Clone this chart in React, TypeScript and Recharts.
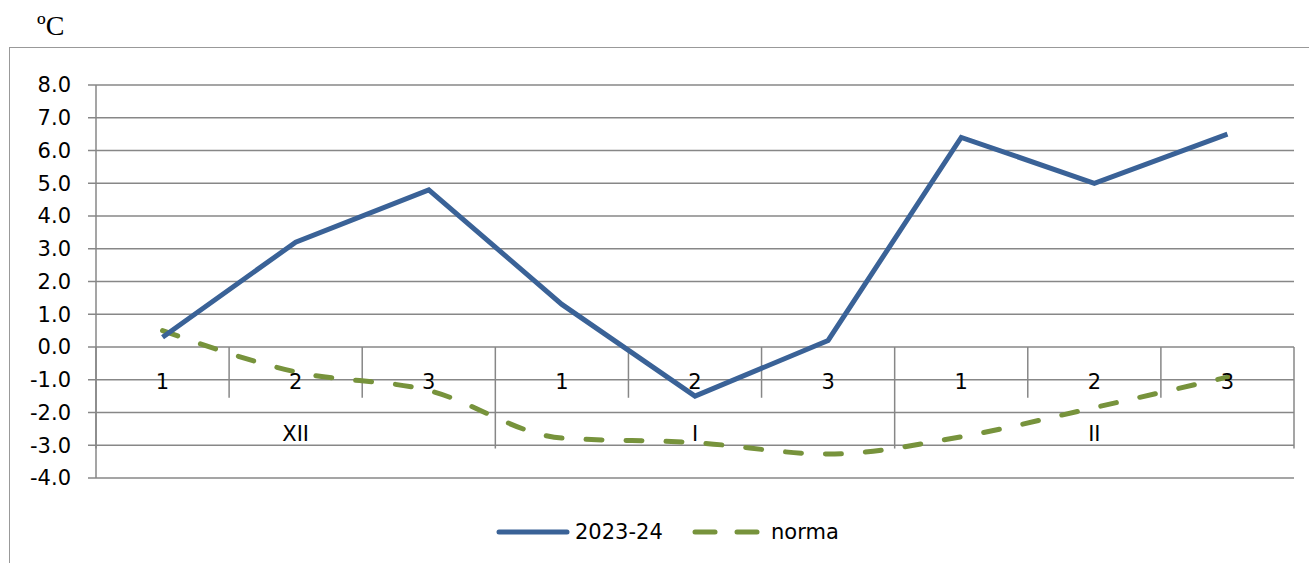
import {
  LineChart, Line, XAxis, YAxis, CartesianGrid, ReferenceLine, ReferenceDot,
} from 'recharts';

// Dekady (1, 2, 3) w miesiącach XII, I, II
const DEKADY = ['1', '2', '3', '1', '2', '3', '1', '2', '3'];
const MIESIACE = ['XII', 'I', 'II'];
const SEZON = [0.3, 3.2, 4.8, 1.3, -1.5, 0.2, 6.4, 5.0, 6.5];
const NORMA = [0.5, -0.76, -1.33, -2.78, -2.92, -3.27, -2.74, -1.85, -0.92];
const Y_TICKS = [-4, -3, -2, -1, 0, 1, 2, 3, 4, 5, 6, 7, 8];

const BLUE = '#3a6297';
const GREEN = '#77933c';
const GRID = '#878787';
const FONT = '"DejaVu Sans", Verdana, sans-serif';

const rows = DEKADY.map((d, i) => ({ x: i + 0.5, dekada: d, sezon: SEZON[i], norma: NORMA[i] }));
const granice = Array.from({ length: DEKADY.length + 1 }, (_, k) => k);

export default function App() {
  return (
    <div style={{ position: 'fixed', left: 0, top: 0, width: 1309, height: 563, background: '#fff', overflow: 'hidden' }}>
      <div
        style={{
          position: 'absolute', left: 9, top: 47, width: 1400, height: 600,
          borderTop: '1.5px solid #999', borderLeft: '1.5px solid #999',
        }}
      />
      <div style={{ position: 'absolute', left: 37, top: 10, fontFamily: '"Liberation Serif", "Times New Roman", serif', fontSize: 28, color: '#000' }}>
        ºC
      </div>
      <div style={{ position: 'absolute', left: 0, top: 0 }}>
        <LineChart width={1309} height={563} data={rows} margin={{ top: 85, right: 15, bottom: 85, left: 0 }} style={{ fontFamily: FONT }}>
          <CartesianGrid vertical={false} stroke={GRID} strokeWidth={1.5} />
          <XAxis dataKey="x" type="number" domain={[0, 9]} hide />
          <YAxis
            type="number"
            domain={[-4, 8]}
            ticks={Y_TICKS}
            width={96}
            tickFormatter={(v: number) => v.toFixed(1)}
            tick={{ fontSize: 21, fill: '#000' }}
            tickSize={8}
            tickMargin={17}
            axisLine={{ stroke: GRID, strokeWidth: 1.5 }}
            tickLine={{ stroke: GRID, strokeWidth: 1.5 }}
          />
          {granice.map((k) => (
            <ReferenceLine
              key={`g${k}`}
              segment={[{ x: k, y: 0 }, { x: k, y: k % 3 === 0 ? -3.1 : -1.55 }]}
              stroke={GRID}
              strokeWidth={1.5}
            />
          ))}
          {rows.map((r, i) => (
            <ReferenceDot
              key={`d${i}`}
              x={r.x}
              y={-1.07}
              r={0}
              stroke="none"
              fill="none"
              label={{ value: r.dekada, position: 'center', fill: '#000', fontSize: 21 }}
            />
          ))}
          {MIESIACE.map((m, i) => (
            <ReferenceDot
              key={`m${i}`}
              x={i * 3 + 1.5}
              y={-2.63}
              r={0}
              stroke="none"
              fill="none"
              label={{ value: m, position: 'center', fill: '#000', fontSize: 21 }}
            />
          ))}
          <Line
            dataKey="norma"
            type="monotone"
            stroke={GREEN}
            strokeWidth={5}
            strokeDasharray="16 24"
            strokeLinecap="round"
            dot={false}
            isAnimationActive={false}
          />
          <Line
            dataKey="sezon"
            type="linear"
            stroke={BLUE}
            strokeWidth={5}
            dot={false}
            isAnimationActive={false}
          />
        </LineChart>
      </div>
      <svg style={{ position: 'absolute', left: 490, top: 512 }} width={400} height={40}>
        <line x1={9} y1={20} x2={77} y2={20} stroke={BLUE} strokeWidth={5} strokeLinecap="round" />
        <text x={85} y={27} fontFamily={FONT} fontSize={21} fill="#000">2023-24</text>
        <line x1={205} y1={20} x2={225} y2={20} stroke={GREEN} strokeWidth={5} strokeLinecap="round" />
        <line x1={247} y1={20} x2={267} y2={20} stroke={GREEN} strokeWidth={5} strokeLinecap="round" />
        <text x={281} y={27} fontFamily={FONT} fontSize={21} fill="#000">norma</text>
      </svg>
    </div>
  );
}
